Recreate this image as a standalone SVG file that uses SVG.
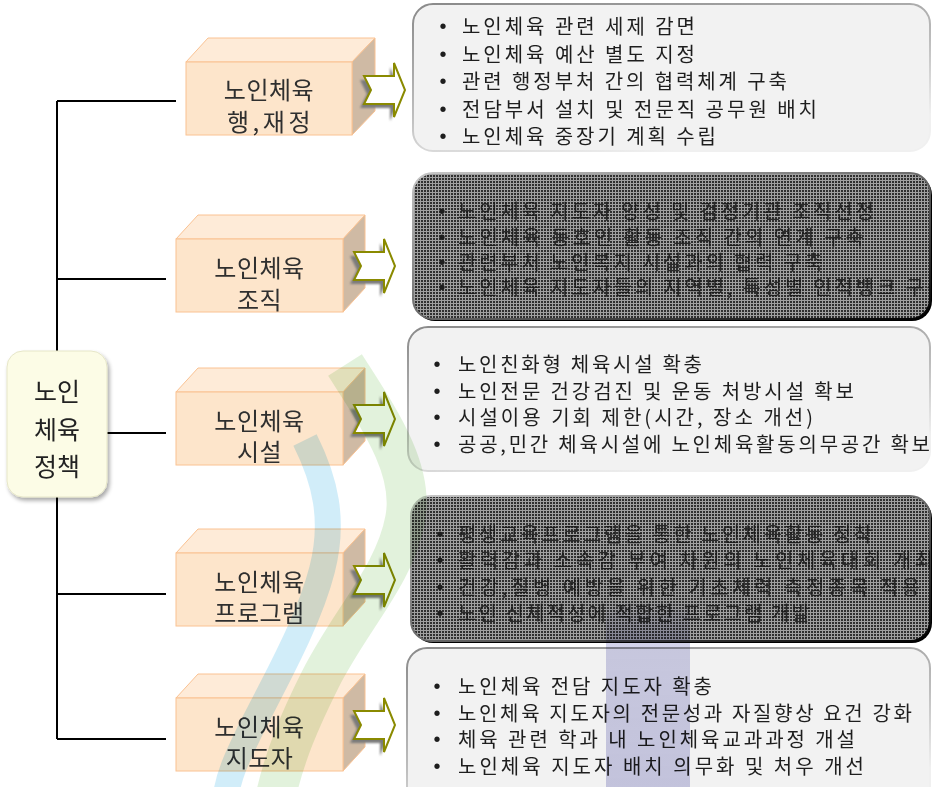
<svg xmlns="http://www.w3.org/2000/svg" width="936" height="787" viewBox="0 0 936 787">
<defs>
<style>
text{font-family:"Noto Sans CJK KR","Noto Sans",sans-serif;}
.front{fill:#FDE5CB;stroke:#FAC292;stroke-width:1;}
.top{fill:#FEEBD8;stroke:#FAC292;stroke-width:1;}
.side{fill:#CFBAA4;stroke:#FAC292;stroke-width:1;}
.bt{font-size:24px;fill:#2F2F2F;text-anchor:middle;letter-spacing:0.5px;}
.pt{font-size:20px;fill:#1E1E1E;}
.dt{font-size:20px;fill:#161616;fill-opacity:0.85;}
.bul{font-family:"Liberation Sans",sans-serif;font-size:20px;fill:#1E1E1E;text-anchor:middle;}
.conn{stroke:#000;stroke-width:2;fill:none;}
.arr{fill:#FFFFFF;stroke:#8A8A00;stroke-width:2;stroke-linejoin:miter;}
.arrsh{fill:#7A7A7A;}
.light{fill:#F2F2F2;stroke:url(#edge);stroke-width:2;}
.dark{fill:url(#weave);stroke:url(#edgeD);stroke-width:2;}
.mul{mix-blend-mode:multiply;}
</style>
<pattern id="weave" width="3" height="3" patternUnits="userSpaceOnUse">
<rect width="3" height="3" fill="#303030"/>
<rect width="3" height="1" fill="#A0A0A0"/>
<rect width="1" height="3" fill="#A0A0A0"/>
</pattern>
<linearGradient id="edge" x1="0" y1="0" x2="0.5" y2="1">
<stop offset="0" stop-color="#8A8A8A"/>
<stop offset="0.6" stop-color="#BDBDBD"/>
<stop offset="1" stop-color="#F0F0F0"/>
</linearGradient>
<linearGradient id="edgeD" x1="0" y1="0" x2="1" y2="1">
<stop offset="0" stop-color="#C8C8C8"/>
<stop offset="0.5" stop-color="#6A6A6A"/>
<stop offset="1" stop-color="#000000"/>
</linearGradient>
<linearGradient id="purp" x1="0" y1="0" x2="0" y2="1">
<stop offset="0" stop-color="#9C9CD0" stop-opacity="0"/>
<stop offset="0.2" stop-color="#9C9CD0" stop-opacity="0.45"/>
<stop offset="1" stop-color="#9C9CD0" stop-opacity="0.5"/>
</linearGradient>
<filter id="sh" x="-20%" y="-20%" width="140%" height="140%">
<feGaussianBlur in="SourceAlpha" stdDeviation="2"/>
<feOffset dx="2" dy="3"/>
<feComponentTransfer><feFuncA type="linear" slope="0.35"/></feComponentTransfer>
<feMerge><feMergeNode/><feMergeNode in="SourceGraphic"/></feMerge>
</filter>
<filter id="blur1"><feGaussianBlur stdDeviation="1"/></filter>
<path id="arrow" d="M0,13 H30 V0 L41,27 L30,54 V41 H0 L7,27 Z"/>
<clipPath id="c1"><rect x="413" y="4" width="517" height="147" rx="20"/></clipPath>
<clipPath id="c2"><rect x="413" y="173" width="517" height="146" rx="20"/></clipPath>
<clipPath id="c3"><rect x="408" y="327" width="522" height="144" rx="20"/></clipPath>
<clipPath id="c4"><rect x="411" y="496" width="519" height="145" rx="20"/></clipPath>
<clipPath id="c5"><rect x="407" y="648" width="523" height="160" rx="20"/></clipPath>
</defs>
<rect width="936" height="787" fill="#FFFFFF"/>

<g id="connectors">
<path class="conn" d="M57,101 V739"/>
<path class="conn" d="M57,101 H176"/>
<path class="conn" d="M57,279 H166"/>
<path class="conn" d="M107,433 H166"/>
<path class="conn" d="M57,594 H166"/>
<path class="conn" d="M57,739 H166"/>
</g>

<g id="root">
<rect x="7" y="351" width="100" height="146" rx="16" fill="#FCFCE6" stroke="#E6E6C8" stroke-width="1" filter="url(#sh)"/>
<text x="57" y="401" font-size="25" fill="#222" text-anchor="middle">노인</text>
<text x="57" y="439" font-size="25" fill="#222" text-anchor="middle">체육</text>
<text x="57" y="476" font-size="25" fill="#222" text-anchor="middle">정책</text>
</g>

<g id="box1">
<path class="top" d="M186,62 L208,38 H375 L352,62 Z"/>
<path class="side" d="M352,62 L375,38 V111 L352,135 Z"/>
<rect class="front" x="186" y="62" width="166" height="73"/>
<text class="bt" x="269" y="99">노인체육</text>
<text class="bt" x="269" y="131" textLength="84" lengthAdjust="spacing">행,재정</text>
<use href="#arrow" class="arrsh" transform="translate(360,67)" filter="url(#blur1)"/>
<use href="#arrow" class="arr" transform="translate(364,63)"/>
</g>

<g id="box2">
<path class="top" d="M176,239 L198,215 H365 L343,239 Z"/>
<path class="side" d="M343,239 L365,215 V288 L343,312 Z"/>
<rect class="front" x="176" y="239" width="167" height="73"/>
<text class="bt" x="259.5" y="277">노인체육</text>
<text class="bt" x="259.5" y="309">조직</text>
<use href="#arrow" class="arrsh" transform="translate(350,243)" filter="url(#blur1)"/>
<use href="#arrow" class="arr" transform="translate(354,239)"/>
</g>

<g id="box3">
<path class="top" d="M176,392 L198,368 H365 L343,392 Z"/>
<path class="side" d="M343,392 L365,368 V441 L343,465 Z"/>
<rect class="front" x="176" y="392" width="167" height="73"/>
<text class="bt" x="259.5" y="430">노인체육</text>
<text class="bt" x="259.5" y="461">시설</text>
<use href="#arrow" class="arrsh" transform="translate(350,396)" filter="url(#blur1)"/>
<use href="#arrow" class="arr" transform="translate(354,392)"/>
</g>

<g id="box4">
<path class="top" d="M176,553 L198,529 H365 L343,553 Z"/>
<path class="side" d="M343,553 L365,529 V602 L343,626 Z"/>
<rect class="front" x="176" y="553" width="167" height="73"/>
<text class="bt" x="259.5" y="591">노인체육</text>
<text class="bt" x="259.5" y="622">프로그램</text>
<use href="#arrow" class="arrsh" transform="translate(350,557)" filter="url(#blur1)"/>
<use href="#arrow" class="arr" transform="translate(354,553)"/>
</g>

<g id="box5">
<path class="top" d="M176,698 L198,674 H365 L343,698 Z"/>
<path class="side" d="M343,698 L365,674 V747 L343,771 Z"/>
<rect class="front" x="176" y="698" width="167" height="73"/>
<text class="bt" x="259.5" y="736">노인체육</text>
<text class="bt" x="259.5" y="767">지도자</text>
<use href="#arrow" class="arrsh" transform="translate(350,702)" filter="url(#blur1)"/>
<use href="#arrow" class="arr" transform="translate(354,698)"/>
</g>

<g id="panel1">
<rect class="light" x="413" y="4" width="517" height="147" rx="20"/>
<g clip-path="url(#c1)">
<text class="bul" x="443" y="33">•</text><text class="pt" x="462" y="34" textLength="233" lengthAdjust="spacing">노인체육 관련 세제 감면</text>
<text class="bul" x="443" y="60.5">•</text><text class="pt" x="462" y="61.5" textLength="233" lengthAdjust="spacing">노인체육 예산 별도 지정</text>
<text class="bul" x="443" y="88">•</text><text class="pt" x="462" y="89" textLength="325" lengthAdjust="spacing">관련 행정부처 간의 협력체계 구축</text>
<text class="bul" x="443" y="115.5">•</text><text class="pt" x="462" y="116.5" textLength="355" lengthAdjust="spacing">전담부서 설치 및 전문직 공무원 배치</text>
<text class="bul" x="443" y="143">•</text><text class="pt" x="462" y="144" textLength="254" lengthAdjust="spacing">노인체육 중장기 계획 수립</text>
</g>
</g>

<g id="panel2">
<rect x="415" y="175" width="517" height="146" rx="20" fill="#000"/>
<rect class="dark" x="413" y="173" width="517" height="146" rx="20"/>
<g clip-path="url(#c2)">
<text class="bul" x="442" y="218">•</text><text class="dt" x="458" y="219" textLength="416" lengthAdjust="spacing">노인체육 지도자 양성 및 검정기관 조직선정</text>
<text class="bul" x="442" y="244">•</text><text class="dt" x="458" y="245" textLength="406" lengthAdjust="spacing">노인체육 동호인 활동 조직 간의 연계 구축</text>
<text class="bul" x="442" y="269">•</text><text class="dt" x="458" y="270" textLength="365" lengthAdjust="spacing">관련부처 노인복지 시설과의 협력 구축</text>
<text class="bul" x="442" y="294">•</text><text class="dt" x="458" y="295" textLength="487" lengthAdjust="spacing">노인체육 지도자들의 지역별, 특성별 인적뱅크 구축</text>
</g>
</g>

<g id="panel3">
<rect class="light" x="408" y="327" width="522" height="144" rx="20"/>
<g clip-path="url(#c3)">
<text class="bul" x="437" y="371">•</text><text class="pt" x="458" y="372" textLength="244" lengthAdjust="spacing">노인친화형 체육시설 확충</text>
<text class="bul" x="437" y="397.5">•</text><text class="pt" x="458" y="398.5" textLength="396" lengthAdjust="spacing">노인전문 건강검진 및 운동 처방시설 확보</text>
<text class="bul" x="437" y="424">•</text><text class="pt" x="458" y="425" textLength="355" lengthAdjust="spacing">시설이용 기회 제한(시간, 장소 개선)</text>
<text class="bul" x="437" y="451">•</text><text class="pt" x="458" y="452" textLength="472" lengthAdjust="spacing">공공,민간 체육시설에 노인체육활동의무공간 확보</text>
</g>
</g>

<g id="panel4">
<rect x="413" y="498" width="519" height="145" rx="20" fill="#000"/>
<rect class="dark" x="411" y="496" width="519" height="145" rx="20"/>
<g clip-path="url(#c4)">
<text class="bul" x="440" y="541">•</text><text class="dt" x="458" y="542" textLength="414" lengthAdjust="spacing">평생교육프로그램을 통한 노인체육활동 정착</text>
<text class="bul" x="440" y="567">•</text><text class="dt" x="458" y="568" textLength="475" lengthAdjust="spacing">활력감과 소속감 부여 차원의 노인체육대회 개최</text>
<text class="bul" x="440" y="593.5">•</text><text class="dt" x="458" y="594.5" textLength="462" lengthAdjust="spacing">건강,질병 예방을 위한 기초체력 측정종목 적용</text>
<text class="bul" x="440" y="620">•</text><text class="dt" x="458" y="621" textLength="352" lengthAdjust="spacing">노인 신체적성에 적합한 프로그램 개발</text>
</g>
</g>

<g id="panel5">
<rect class="light" x="407" y="648" width="523" height="160" rx="20"/>
<g clip-path="url(#c5)">
<text class="bul" x="437" y="693">•</text><text class="pt" x="458" y="694" textLength="254" lengthAdjust="spacing">노인체육 전담 지도자 확충</text>
<text class="bul" x="437" y="719.5">•</text><text class="pt" x="458" y="720.5" textLength="454" lengthAdjust="spacing">노인체육 지도자의 전문성과 자질향상 요건 강화</text>
<text class="bul" x="437" y="746">•</text><text class="pt" x="458" y="747" textLength="397" lengthAdjust="spacing">체육 관련 학과 내 노인체육교과과정 개설</text>
<text class="bul" x="437" y="773">•</text><text class="pt" x="458" y="774" textLength="406" lengthAdjust="spacing">노인체육 지도자 배치 의무화 및 처우 개선</text>
</g>
</g>

<g id="watermark" fill="none">
<path class="mul" d="M345,365 C380,420 415,470 405,520 C395,575 350,620 320,680 C300,720 285,755 276,795" stroke="#9FD48C" stroke-width="40" stroke-opacity="0.3"/>
<path class="mul" d="M305,440 C325,480 335,520 322,570 C308,625 270,690 248,735 C236,760 229,775 226,795" stroke="#7CCBEE" stroke-width="26" stroke-opacity="0.35"/>
<rect class="mul" x="606" y="600" width="84" height="190" fill="url(#purp)"/>
</g>
</svg>
